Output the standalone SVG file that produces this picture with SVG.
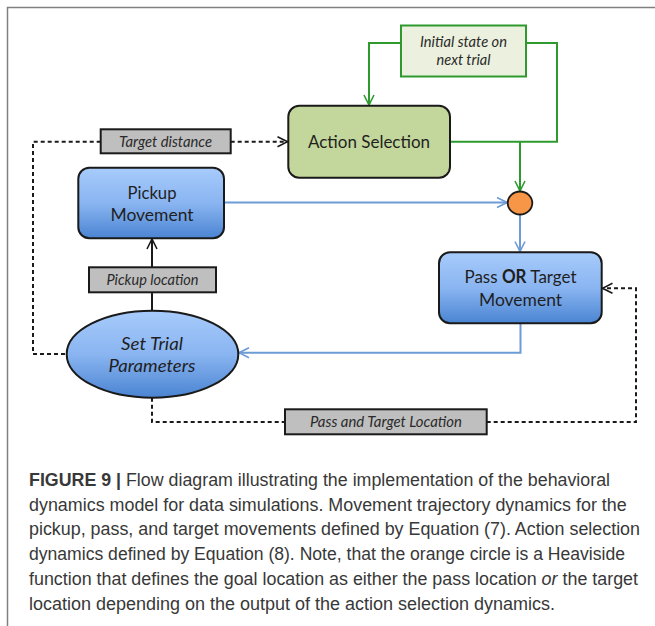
<svg xmlns="http://www.w3.org/2000/svg" width="655" height="626" viewBox="0 0 655 626">
<defs>
  <linearGradient id="blueG" x1="0" y1="0" x2="0" y2="1">
    <stop offset="0" stop-color="#A7CBFB"/>
    <stop offset="0.5" stop-color="#8AB5F1"/>
    <stop offset="1" stop-color="#4A84D2"/>
  </linearGradient>
  <marker id="arrK" viewBox="0 0 12 12" refX="11" refY="6" markerWidth="12" markerHeight="12" markerUnits="userSpaceOnUse" orient="auto">
    <path d="M1,1 L11,6 L1,11" fill="none" stroke="#1a1a1a" stroke-width="1.6"/>
  </marker>
  <marker id="arrG" viewBox="0 0 12 12" refX="11" refY="6" markerWidth="12" markerHeight="12" markerUnits="userSpaceOnUse" orient="auto">
    <path d="M1,1 L11,6 L1,11" fill="none" stroke="#2E9A2E" stroke-width="1.6"/>
  </marker>
  <marker id="arrB" viewBox="0 0 12 12" refX="11" refY="6" markerWidth="12" markerHeight="12" markerUnits="userSpaceOnUse" orient="auto">
    <path d="M1,1 L11,6 L1,11" fill="none" stroke="#6C9BD6" stroke-width="1.6"/>
  </marker>
</defs>
<style>
  .green { fill: none; stroke: #2E9A2E; stroke-width: 2; }
  .blue { fill: none; stroke: #6C9BD6; stroke-width: 2; }
  .solid { fill: none; stroke: #1a1a1a; stroke-width: 2; }
  .dash { fill: none; stroke: #1a1a1a; stroke-width: 2; stroke-dasharray: 4 3; }
  .bluebox { fill: url(#blueG); stroke: #1a1a1a; stroke-width: 2; }
  .graybox { fill: #BFBFBF; stroke: #1a1a1a; stroke-width: 2; }
  .node { font-family: Lato, "Liberation Sans", sans-serif; font-size: 18px; fill: #1f1f1f; text-anchor: middle; }
  .lbl { font-family: Lato, "Liberation Sans", sans-serif; font-size: 15px; font-style: italic; fill: #2a2a2a; text-anchor: middle; }
  .cap { font-family: "Liberation Sans", Arial, sans-serif; font-size: 17.5px; fill: #383838; }
</style>
<rect x="0" y="0" width="655" height="626" fill="#ffffff"/>
<path d="M7.5,626 V7.5 H655" fill="none" stroke="#808080" stroke-width="1.5"/>

<g id="connectors">
  <path class="green" d="M401,43 H369 V105" marker-end="url(#arrG)"/>
  <path class="green" d="M450,141.7 H557 V43 H526"/>
  <path class="green" d="M520,141.7 V191" marker-end="url(#arrG)"/>
  <path class="blue" d="M224,202.5 H507" marker-end="url(#arrB)"/>
  <path class="blue" d="M520,214.5 V251.5" marker-end="url(#arrB)"/>
  <path class="blue" d="M520.5,323.5 V352.7 H239" marker-end="url(#arrB)"/>
  <path class="solid" d="M152,310.7 V239" marker-end="url(#arrK)"/>
  <path class="dash" d="M100.7,141.7 H33 V354 H66.7"/>
  <path class="dash" d="M230.7,141.7 H287.5" marker-end="url(#arrK)"/>
  <path class="dash" d="M152,397.7 V422 H285"/>
  <path class="dash" d="M486.7,422 H636 V288.3 H602.5" marker-end="url(#arrK)"/>
</g>

<g id="initial-state">
  <rect x="401" y="25.5" width="125" height="51" fill="#EBF1DE" stroke="#2E9A2E" stroke-width="2"/>
  <text class="lbl" x="463.5" y="46.7" textLength="87" lengthAdjust="spacingAndGlyphs">Initial state on</text>
  <text class="lbl" x="463.5" y="64.5" textLength="54" lengthAdjust="spacingAndGlyphs">next trial</text>
</g>

<g id="action-selection">
  <rect x="288.3" y="105.7" width="161.7" height="72" rx="11" fill="#C3D69B" stroke="#1a1a1a" stroke-width="2"/>
  <text class="node" x="369" y="148.3" textLength="122" lengthAdjust="spacingAndGlyphs">Action Selection</text>
</g>

<g id="target-distance">
  <rect class="graybox" x="100.7" y="129.3" width="130" height="24"/>
  <text class="lbl" x="165.5" y="146.7" textLength="93" lengthAdjust="spacingAndGlyphs">Target distance</text>
</g>

<g id="pickup-movement">
  <rect class="bluebox" x="78.3" y="167.7" width="145.7" height="70.6" rx="11"/>
  <text class="node" x="152" y="199" textLength="49" lengthAdjust="spacingAndGlyphs">Pickup</text>
  <text class="node" x="152" y="220.7" textLength="83" lengthAdjust="spacingAndGlyphs">Movement</text>
</g>

<g id="heaviside">
  <ellipse cx="520" cy="203" rx="12.3" ry="11.5" fill="#F79646" stroke="#1a1a1a" stroke-width="1.8"/>
</g>

<g id="pickup-location">
  <rect class="graybox" x="89" y="267.3" width="127" height="25"/>
  <text class="lbl" x="152.5" y="284.8" textLength="92" lengthAdjust="spacingAndGlyphs">Pickup location</text>
</g>

<g id="pass-or-target">
  <rect class="bluebox" x="439" y="252.3" width="162.7" height="71" rx="11"/>
  <text class="node" x="520.5" y="283.3" textLength="112" lengthAdjust="spacingAndGlyphs">Pass <tspan font-weight="bold">OR</tspan> Target</text>
  <text class="node" x="520.5" y="306" textLength="83" lengthAdjust="spacingAndGlyphs">Movement</text>
</g>

<g id="set-trial-parameters">
  <ellipse class="bluebox" cx="152.5" cy="354.2" rx="85.8" ry="43.5"/>
  <text class="node" x="152" y="350" font-style="italic" font-size="19" textLength="62" lengthAdjust="spacingAndGlyphs">Set Trial</text>
  <text class="node" x="152" y="372" font-style="italic" font-size="19" textLength="87" lengthAdjust="spacingAndGlyphs">Parameters</text>
</g>

<g id="pass-target-location">
  <rect class="graybox" x="285" y="409.3" width="201.7" height="25"/>
  <text class="lbl" x="386" y="427.2" textLength="152" lengthAdjust="spacingAndGlyphs">Pass and Target Location</text>
</g>

<g id="caption">
  <text class="cap" x="29" y="486" textLength="581" lengthAdjust="spacingAndGlyphs"><tspan font-weight="bold">FIGURE 9 |</tspan> Flow diagram illustrating the implementation of the behavioral</text>
  <text class="cap" x="29" y="510.7" textLength="597.7" lengthAdjust="spacingAndGlyphs">dynamics model for data simulations. Movement trajectory dynamics for the</text>
  <text class="cap" x="29" y="535.4" textLength="611" lengthAdjust="spacingAndGlyphs">pickup, pass, and target movements defined by Equation (7). Action selection</text>
  <text class="cap" x="29" y="560.1" textLength="596" lengthAdjust="spacingAndGlyphs">dynamics defined by Equation (8). Note, that the orange circle is a Heaviside</text>
  <text class="cap" x="29" y="584.8" textLength="609" lengthAdjust="spacingAndGlyphs">function that defines the goal location as either the pass location <tspan font-style="italic">or</tspan> the target</text>
  <text class="cap" x="29" y="609.5" textLength="526" lengthAdjust="spacingAndGlyphs">location depending on the output of the action selection dynamics.</text>
</g>
</svg>
